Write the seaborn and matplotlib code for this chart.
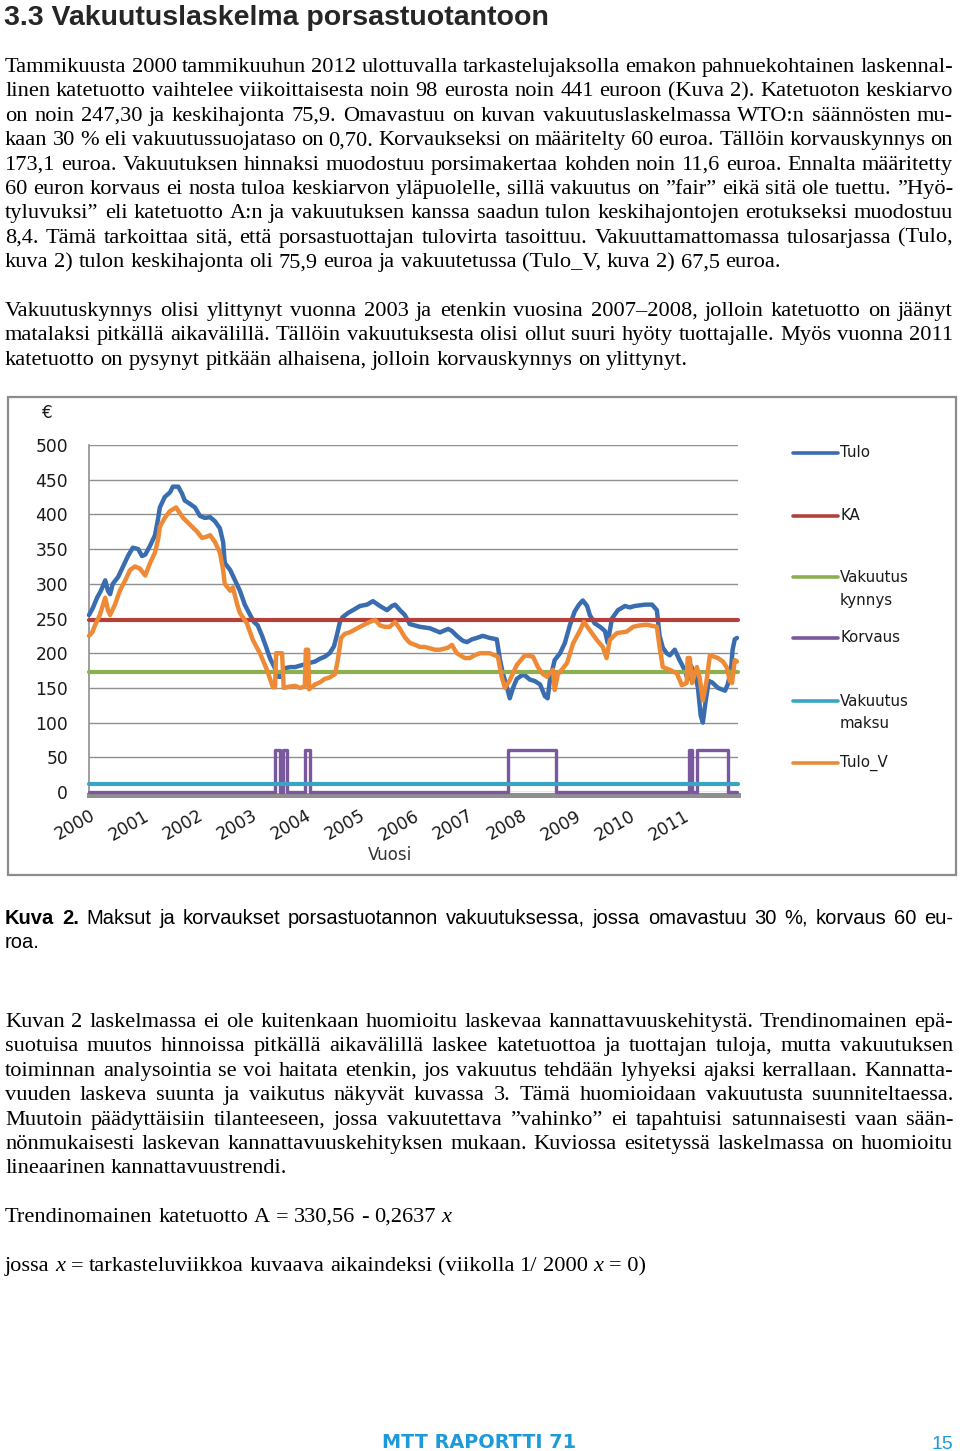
import matplotlib
matplotlib.use('Agg')
import matplotlib.pyplot as plt
import seaborn as sns
import numpy as np
import pandas as pd
from matplotlib.lines import Line2D
from matplotlib.patches import Rectangle

# ---- chart data ----
tulo_vuosi = 2000 + np.array([
    0.00, 0.07, 0.15, 0.22, 0.30, 0.35, 0.39, 0.44, 0.54, 0.63,
    0.72, 0.81, 0.91, 0.98, 1.04, 1.13, 1.22, 1.28, 1.31, 1.40,
    1.50, 1.55, 1.65, 1.72, 1.77, 1.87, 1.96, 2.05, 2.14, 2.24,
    2.33, 2.42, 2.48, 2.51, 2.61, 2.70, 2.79, 2.88, 2.98, 3.05,
    3.12, 3.20, 3.27, 3.35, 3.44, 3.49, 3.55, 3.60, 3.72, 3.81,
    3.90, 3.99, 4.08, 4.18, 4.27, 4.36, 4.45, 4.53, 4.58, 4.64,
    4.69, 4.79, 4.88, 5.01, 5.14, 5.25, 5.38, 5.51, 5.60, 5.66,
    5.75, 5.84, 5.93, 6.12, 6.30, 6.49, 6.64, 6.71, 6.80, 6.91,
    6.99, 7.08, 7.17, 7.28, 7.41, 7.54, 7.60, 7.65, 7.73, 7.78,
    7.84, 7.91, 8.00, 8.06, 8.15, 8.24, 8.34, 8.43, 8.48, 8.52,
    8.61, 8.71, 8.80, 8.89, 8.98, 9.06, 9.13, 9.21, 9.26, 9.35,
    9.45, 9.54, 9.59, 9.67, 9.78, 9.91, 10.00, 10.09, 10.28, 10.41,
    10.50, 10.55, 10.61, 10.68, 10.74, 10.83, 10.92, 11.02, 11.07, 11.13,
    11.20, 11.26, 11.31, 11.35, 11.40, 11.46, 11.52, 11.63, 11.76, 11.81,
    11.87, 11.90, 11.94, 11.98])
tulo = [255, 265, 280, 290, 305, 290, 285, 300, 310, 325,
        340, 352, 350, 340, 342, 355, 370, 395, 410, 425,
        432, 440, 440, 430, 420, 415, 410, 398, 395, 396,
        390, 380, 360, 330, 320, 305, 290, 270, 255, 245,
        240, 225, 210, 192, 178, 166, 166, 178, 180, 180,
        182, 184, 186, 188, 192, 195, 200, 210, 225, 245,
        252, 258, 262, 268, 270, 275, 268, 262, 268, 270,
        262, 255, 242, 238, 236, 230, 235, 232, 225, 218,
        216, 220, 222, 225, 222, 220, 190, 172, 150, 135,
        150, 163, 168, 168, 162, 160, 155, 138, 135, 160,
        190, 200, 215, 240, 260, 270, 276, 268, 255, 243,
        238, 232, 215, 250, 262, 268, 266, 268, 270, 270,
        262, 225, 208, 200, 197, 205, 190, 175, 162, 182,
        170, 150, 110, 100, 130, 160, 158, 150, 146, 155,
        175, 205, 220, 222]

tulo_v_vuosi = 2000 + np.array([
    0.00, 0.06, 0.11, 0.20, 0.26, 0.30, 0.35, 0.39, 0.48, 0.57,
    0.67, 0.76, 0.85, 0.94, 1.04, 1.13, 1.22, 1.28, 1.31, 1.40,
    1.50, 1.61, 1.74, 1.87, 2.00, 2.09, 2.18, 2.24, 2.33, 2.42,
    2.48, 2.51, 2.61, 2.66, 2.74, 2.79, 2.92, 3.03, 3.16, 3.29,
    3.40, 3.44, 3.46, 3.57, 3.60, 3.72, 3.81, 3.90, 3.99, 4.01,
    4.05, 4.07, 4.18, 4.27, 4.36, 4.45, 4.55, 4.60, 4.66, 4.73,
    4.82, 5.01, 5.19, 5.29, 5.38, 5.47, 5.56, 5.66, 5.75, 5.84,
    5.93, 6.03, 6.12, 6.21, 6.40, 6.49, 6.64, 6.71, 6.80, 6.95,
    7.04, 7.13, 7.23, 7.41, 7.56, 7.63, 7.69, 7.78, 7.91, 8.06,
    8.21, 8.30, 8.39, 8.47, 8.52, 8.58, 8.61, 8.67, 8.71, 8.84,
    8.95, 9.08, 9.15, 9.26, 9.39, 9.50, 9.57, 9.63, 9.76, 9.94,
    10.06, 10.18, 10.31, 10.50, 10.55, 10.61, 10.74, 10.87, 10.96, 11.05,
    11.07, 11.11, 11.15, 11.24, 11.29, 11.35, 11.42, 11.48, 11.63, 11.72,
    11.79, 11.85, 11.89, 11.94, 11.98])
tulo_v = [225, 230, 240, 255, 270, 280, 262, 255, 270, 290,
          305, 320, 325, 322, 312, 330, 345, 365, 382, 395,
          405, 410, 395, 385, 375, 366, 368, 370, 360, 345,
          320, 300, 290, 295, 270, 258, 243, 219, 200, 176,
          151, 151, 200, 200, 150, 152, 153, 150, 152, 205,
          205, 148, 155, 158, 163, 165, 170, 190, 222, 228,
          230, 238, 245, 248, 240, 238, 238, 245, 235, 223,
          215, 212, 209, 209, 205, 205, 208, 212, 200, 193,
          193, 197, 200, 200, 195, 166, 150, 161, 183, 197,
          195, 180, 170, 166, 172, 176, 147, 170, 173, 186,
          214, 233, 245, 233, 219, 209, 193, 219, 229, 231,
          238, 240, 241, 238, 209, 180, 176, 171, 154, 157,
          193, 193, 157, 180, 165, 132, 161, 197, 193, 188,
          180, 160, 157, 190, 188]

korvaus_vuosi = [2000.00, 2003.44, 2003.53, 2003.59, 2003.66, 2003.99, 2004.09,
                 2007.74, 2008.63, 2011.09, 2011.15, 2011.24, 2011.81, 2011.98]
korvaus = [0, 60, 0, 60, 0, 60, 0, 60, 0, 60, 0, 60, 0, 0]

ka = 247.3
kynnys = 173.1
maksu = 11.6

vuodet = list(range(2000, 2012))
y_ticks = list(range(0, 501, 50))

# ---- page text ----
otsikko = "3.3 Vakuutuslaskelma porsastuotantoon"
kappale1 = [
    "Tammikuusta 2000 tammikuuhun 2012 ulottuvalla tarkastelujaksolla emakon pahnuekohtainen laskennal-",
    "linen katetuotto vaihtelee viikoittaisesta noin 98 eurosta noin 441 euroon (Kuva 2). Katetuoton keskiarvo",
    "on noin 247,30 ja keskihajonta 75,9. Omavastuu on kuvan vakuutuslaskelmassa WTO:n säännösten mu-",
    "kaan 30 % eli vakuutussuojataso on 0,70. Korvaukseksi on määritelty 60 euroa. Tällöin korvauskynnys on",
    "173,1 euroa. Vakuutuksen hinnaksi muodostuu porsimakertaa kohden noin 11,6 euroa. Ennalta määritetty",
    "60 euron korvaus ei nosta tuloa keskiarvon yläpuolelle, sillä vakuutus on ”fair” eikä sitä ole tuettu. ”Hyö-",
    "tyluvuksi” eli katetuotto A:n ja vakuutuksen kanssa saadun tulon keskihajontojen erotukseksi muodostuu",
    "8,4. Tämä tarkoittaa sitä, että porsastuottajan tulovirta tasoittuu. Vakuuttamattomassa tulosarjassa (Tulo,",
    "kuva 2) tulon keskihajonta oli 75,9 euroa ja vakuutetussa (Tulo_V, kuva 2) 67,5 euroa.",
]
kappale2 = [
    "Vakuutuskynnys olisi ylittynyt vuonna 2003 ja etenkin vuosina 2007–2008, jolloin katetuotto on jäänyt",
    "matalaksi pitkällä aikavälillä. Tällöin vakuutuksesta olisi ollut suuri hyöty tuottajalle. Myös vuonna 2011",
    "katetuotto on pysynyt pitkään alhaisena, jolloin korvauskynnys on ylittynyt.",
]
kuvateksti = [
    "Kuva 2. Maksut ja korvaukset porsastuotannon vakuutuksessa, jossa omavastuu 30 %, korvaus 60 eu-",
    "roa.",
]
kappale3 = [
    "Kuvan 2 laskelmassa ei ole kuitenkaan huomioitu laskevaa kannattavuuskehitystä. Trendinomainen epä-",
    "suotuisa muutos hinnoissa pitkällä aikavälillä laskee katetuottoa ja tuottajan tuloja, mutta vakuutuksen",
    "toiminnan analysointia se voi haitata etenkin, jos vakuutus tehdään lyhyeksi ajaksi kerrallaan. Kannatta-",
    "vuuden laskeva suunta ja vaikutus näkyvät kuvassa 3. Tämä huomioidaan vakuutusta suunniteltaessa.",
    "Muutoin päädyttäisiin tilanteeseen, jossa vakuutettava ”vahinko” ei tapahtuisi satunnaisesti vaan sään-",
    "nönmukaisesti laskevan kannattavuuskehityksen mukaan.  Kuviossa esitetyssä laskelmassa on huomioitu",
    "lineaarinen kannattavuustrendi.",
]

W, H = 960, 1451
sns.set_theme(style='white')
plt.rcParams['font.family'] = ['DejaVu Sans']

fig = plt.figure(figsize=(W / 100, H / 100), dpi=100)
fig.patch.set_facecolor('white')
renderer = fig.canvas.get_renderer()


def fx(x):
    return x / W


def fy(y):
    return 1 - y / H


def put_line(words, y, x0=5, x1=953, justify=True, **kw):
    # words: list of (text, extra props); justified like the printed page
    objs, widths = [], []
    for s, extra in words:
        t = fig.text(0, fy(y), s, ha='left', va='baseline', **{**kw, **extra})
        objs.append(t)
        widths.append(t.get_window_extent(renderer).width)
    if justify and len(objs) > 1:
        gap = (x1 - x0 - sum(widths)) / (len(objs) - 1)
    else:
        a = fig.text(0, 0, "a a", **kw)
        b = fig.text(0, 0, "aa", **kw)
        gap = a.get_window_extent(renderer).width - b.get_window_extent(renderer).width
        a.remove()
        b.remove()
    x = x0
    for t, w in zip(objs, widths):
        t.set_x(fx(x))
        x += w + gap


def put_paragraph(lines, y0, step=24.4, **kw):
    for i, line in enumerate(lines):
        words = [(w, {}) for w in line.split()]
        put_line(words, y0 + i * step, justify=(i < len(lines) - 1), **kw)


serif = dict(family='Liberation Serif', fontsize=16.1, color='black')
sans = dict(family='Liberation Sans', fontsize=14.5, color='black')

fig.text(fx(4), fy(25), otsikko, family='Liberation Sans', fontweight='bold',
         fontsize=20.5, ha='left', va='baseline')
put_paragraph(kappale1, 72, **serif)
put_paragraph(kappale2, 316, **serif)

cap_words = [(w, {'fontweight': 'bold'} if i < 2 else {}) for i, w in enumerate(kuvateksti[0].split())]
put_line(cap_words, 924, **sans)
put_line([(kuvateksti[1], {})], 948, justify=False, **sans)

put_paragraph(kappale3, 1027, **serif)

yhtalo = [(w, {}) for w in "Trendinomainen katetuotto A = 330,56 - 0,2637".split()] + [("x", {'style': 'italic'})]
put_line(yhtalo, 1222, justify=False, **serif)
jossa = [("jossa", {}), ("x", {'style': 'italic'})] + \
        [(w, {}) for w in "= tarkasteluviikkoa kuvaava aikaindeksi (viikolla 1/ 2000".split()] + \
        [("x", {'style': 'italic'}), ("= 0)", {})]
put_line(jossa, 1271, justify=False, **serif)

fig.text(fx(382), fy(1448), "MTT RAPORTTI 71", family='DejaVu Sans', fontweight='bold',
         fontsize=13.9, color='#1e9ad8', ha='left', va='baseline')
fig.text(fx(953), fy(1449), "15", family='Liberation Sans', fontsize=14,
         color='#1e9ad8', ha='right', va='baseline')

# ---- chart ----
fig.patches.append(Rectangle((fx(8), fy(875)), (956 - 8) / W, (875 - 397) / H,
                             transform=fig.transFigure, fill=False,
                             ec='#8c8c8c', lw=1.6))

ax = fig.add_axes([fx(89), fy(792), (738 - 89) / W, (792 - 445) / H])
ax.set_facecolor('white')

c_tulo, c_ka, c_kyn = '#3a6db0', '#b5403a', '#8cb04f'
c_korv, c_maksu, c_tv = '#7a589e', '#3aa4c4', '#ee8a36'

df_tulo = pd.DataFrame({'Vuosi': tulo_vuosi, 'Tulo': tulo})
df_tv = pd.DataFrame({'Vuosi': tulo_v_vuosi, 'Tulo_V': tulo_v})
df_korv = pd.DataFrame({'Vuosi': korvaus_vuosi, 'Korvaus': korvaus})

sns.lineplot(data=df_tulo, x='Vuosi', y='Tulo', color=c_tulo, lw=3.2,
             sort=False, estimator=None, ax=ax)
ax.axhline(ka, color=c_ka, lw=3)
ax.axhline(kynnys, color=c_kyn, lw=3)
sns.lineplot(data=df_korv, x='Vuosi', y='Korvaus', color=c_korv, lw=2.4,
             sort=False, estimator=None, drawstyle='steps-post', ax=ax)
ax.axhline(maksu, color=c_maksu, lw=3)
sns.lineplot(data=df_tv, x='Vuosi', y='Tulo_V', color=c_tv, lw=3.2,
             sort=False, estimator=None, ax=ax)
for ln in ax.lines:
    ln.set_clip_on(False)
    ln.set_zorder(3)

ax.set_xlim(2000, 2012)
ax.set_ylim(0, 500)
ax.set_yticks(y_ticks)
ax.set_xticks(vuodet)
ax.set_xticklabels([str(v) for v in vuodet])
ax.grid(axis='y', color='#8f8f8f', lw=1.0)
ax.grid(axis='x', visible=False)
for side in ['top', 'right']:
    ax.spines[side].set_visible(False)
ax.spines['left'].set_color('#8f8f8f')
ax.spines['left'].set_linewidth(1.2)
ax.spines['bottom'].set_color('#8f8f8f')
ax.spines['bottom'].set_linewidth(3.6)
ax.spines['bottom'].set_position(('outward', 2.5))
ax.spines['bottom'].set_zorder(2)
ax.tick_params(axis='y', length=0, pad=15, labelsize=12.3, labelcolor='#1a1a1a')
ax.tick_params(axis='x', length=0, pad=8, labelsize=12.3, labelcolor='#1a1a1a')
plt.setp(ax.get_xticklabels(), rotation=30, ha='right', va='top', rotation_mode='anchor')
ax.set_ylabel('')
ax.set_xlabel('Vuosi', fontsize=12, color='#333333')
ax.xaxis.set_label_coords((390 - 89) / 649, (792 - 846) / 347)

fig.text(fx(47), fy(413), "€", fontsize=12, color='#1a1a1a', ha='center', va='center')

# legend drawn by hand so two-line labels sit like the original
legend = [("Tulo", None, c_tulo, 453), ("KA", None, c_ka, 516),
          ("Vakuutus", "kynnys", c_kyn, 577), ("Korvaus", None, c_korv, 638),
          ("Vakuutus", "maksu", c_maksu, 701), ("Tulo_V", None, c_tv, 763)]
for lab1, lab2, col, yy in legend:
    fig.add_artist(Line2D([fx(793), fx(838)], [fy(yy), fy(yy)], color=col, lw=2.6,
                          transform=fig.transFigure))
    fig.text(fx(840), fy(yy), lab1, fontsize=10.8, color='#1a1a1a', ha='left', va='center')
    if lab2:
        fig.text(fx(840), fy(yy + 23), lab2, fontsize=10.8, color='#1a1a1a', ha='left', va='center')

fig.savefig('out.png', dpi=100, facecolor='white')
